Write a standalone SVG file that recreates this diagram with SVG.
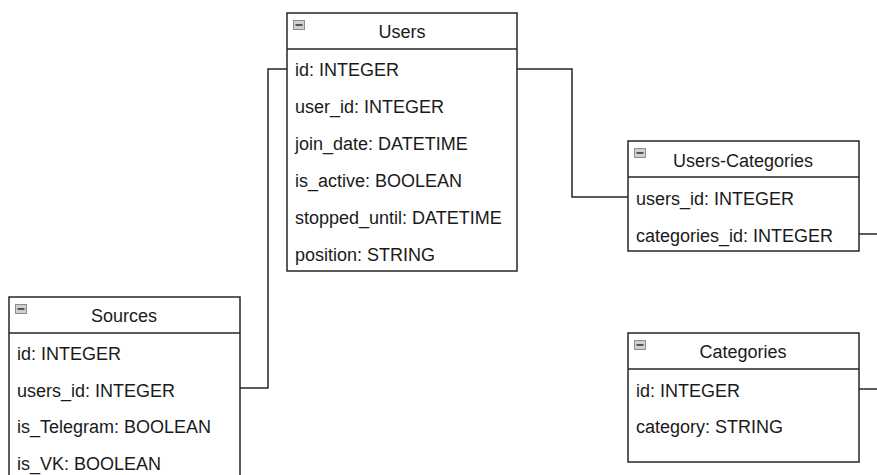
<svg xmlns="http://www.w3.org/2000/svg" width="877" height="475" viewBox="0 0 877 475">
  <defs>
    <style>
      .box { fill: #ffffff; stroke: #262626; stroke-width: 1.5; }
      .sep { stroke: #262626; stroke-width: 1.5; }
      .title { font-family: "Liberation Sans", Arial, sans-serif; font-size: 18px; fill: #1a1a1a; text-anchor: middle; }
      .field { font-family: "Liberation Sans", Arial, sans-serif; font-size: 18px; fill: #1a1a1a; }
      .edge { fill: none; stroke: #262626; stroke-width: 1.5; }
      .icon-box { fill: #d0d0d0; stroke: #8c8c8c; stroke-width: 1; }
      .icon-bar { stroke: #555555; stroke-width: 2; }
    </style>
    <!-- collapse toggle shown in each table header -->
    <g id="toggle">
      <rect class="icon-box" x="0.5" y="0.5" width="11" height="9"/>
      <line class="icon-bar" x1="2.5" y1="5" x2="9.5" y2="5"/>
    </g>
  </defs>

  <!-- relationship lines -->
  <g id="connectors">
    <polyline class="edge" points="287,69 268,69 268,388 240,388"/>
    <polyline class="edge" points="517,69 572,69 572,197 628,197"/>
    <polyline class="edge" points="858,234 877,234"/>
    <polyline class="edge" points="858,389 877,389"/>
  </g>

  <g id="users">
    <rect class="box" x="287" y="13" width="230" height="258"/>
    <line class="sep" x1="287" y1="49" x2="517" y2="49"/>
    <use href="#toggle" x="293" y="20"/>
    <text class="title" x="402" y="38">Users</text>
    <text class="field" x="295" y="76">id: INTEGER</text>
    <text class="field" x="295" y="113">user_id: INTEGER</text>
    <text class="field" x="295" y="150">join_date: DATETIME</text>
    <text class="field" x="295" y="187">is_active: BOOLEAN</text>
    <text class="field" x="295" y="224">stopped_until: DATETIME</text>
    <text class="field" x="295" y="261">position: STRING</text>
  </g>

  <g id="sources">
    <rect class="box" x="9" y="297" width="231" height="190"/>
    <line class="sep" x1="9" y1="333" x2="240" y2="333"/>
    <use href="#toggle" x="15" y="304"/>
    <text class="title" x="124" y="322">Sources</text>
    <text class="field" x="17" y="360">id: INTEGER</text>
    <text class="field" x="17" y="397">users_id: INTEGER</text>
    <text class="field" x="17" y="433">is_Telegram: BOOLEAN</text>
    <text class="field" x="17" y="470">is_VK: BOOLEAN</text>
  </g>

  <g id="users-categories">
    <rect class="box" x="628" y="141" width="231" height="110"/>
    <line class="sep" x1="628" y1="177" x2="859" y2="177"/>
    <use href="#toggle" x="634" y="148"/>
    <text class="title" x="743" y="166.5">Users-Categories</text>
    <text class="field" x="636" y="205">users_id: INTEGER</text>
    <text class="field" x="636" y="241.5">categories_id: INTEGER</text>
  </g>

  <g id="categories">
    <rect class="box" x="628" y="333" width="231" height="129"/>
    <line class="sep" x1="628" y1="369" x2="859" y2="369"/>
    <use href="#toggle" x="634" y="340"/>
    <text class="title" x="743" y="358">Categories</text>
    <text class="field" x="636" y="396.5">id: INTEGER</text>
    <text class="field" x="636" y="433">category: STRING</text>
  </g>
</svg>
